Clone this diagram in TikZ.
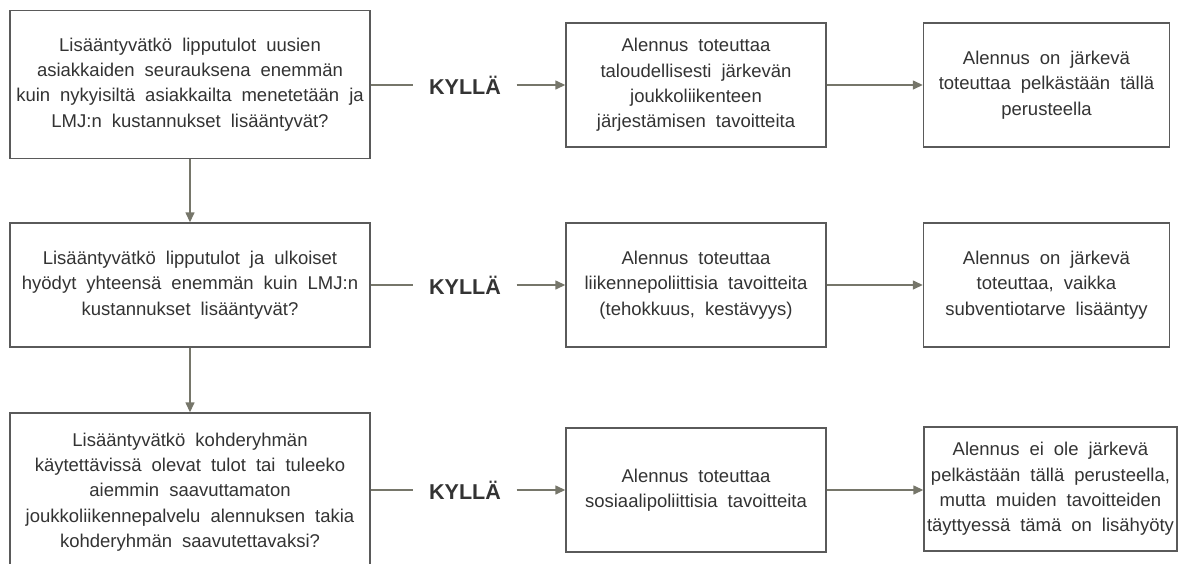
\documentclass[tikz,border=0pt]{standalone}
\usepackage{fontspec}
\setmainfont{Liberation Sans}
\usetikzlibrary{arrows.meta}
\definecolor{boxline}{HTML}{5A5A5A}
\definecolor{arrowc}{HTML}{76766A}
\definecolor{txt}{HTML}{333333}
\newcommand\myboxfont{\fontsize{18.5}{25.3}\selectfont\spaceskip=10pt plus 2pt minus 1pt\relax}
\tikzset{
  box/.style={draw=boxline, line width=1.4pt, fill=white, inner sep=0pt, align=center,
    text=txt, font=\myboxfont},
  leftbox/.style={box, minimum width=360pt},
  midbox/.style={box, minimum width=260pt, minimum height=124pt},
  rightbox/.style={box, minimum width=246pt, minimum height=124pt},
  yes/.style={inner sep=0pt, minimum width=103pt, minimum height=20pt, text=txt,
    font=\fontsize{21.5}{24}\selectfont\bfseries},
  conn/.style={draw=arrowc, line width=1.4pt},
  arr/.style={conn, -{Triangle[length=10pt,width=9pt]}},
}
\begin{document}
\begin{tikzpicture}[x=1pt,y=-1pt]
\useasboundingbox (0,0) rectangle (1179,563);
\clip (0,0) rectangle (1179,563);
% left column
\node[leftbox, minimum height=148pt] (q1) at (190,84.5)
  {Lisääntyvätkö lipputulot uusien\\asiakkaiden seurauksena enemmän\\kuin nykyisiltä asiakkailta menetetään ja\\LMJ:n kustannukset lisääntyvät?};
\node[leftbox, minimum height=124pt] (q2) at (190,285)
  {Lisääntyvätkö lipputulot ja ulkoiset\\hyödyt yhteensä enemmän kuin LMJ:n\\kustannukset lisääntyvät?};
\node[leftbox, minimum height=158pt] (q3) at (190,492)
  {Lisääntyvätkö kohderyhmän\\käytettävissä olevat tulot tai tuleeko\\aiemmin saavuttamaton\\joukkoliikennepalvelu alennuksen takia\\kohderyhmän saavutettavaksi?};
% middle column
\node[midbox] (m1) at (696,85)
  {Alennus toteuttaa\\taloudellisesti järkevän\\joukkoliikenteen\\järjestämisen tavoitteita};
\node[midbox] (m2) at (696,285)
  {Alennus toteuttaa\\liikennepoliittisia tavoitteita\\(tehokkuus, kestävyys)};
\node[midbox] (m3) at (696,490)
  {Alennus toteuttaa\\sosiaalipoliittisia tavoitteita};
% right column
\node[rightbox] (r1) at (1046.5,85)
  {Alennus on järkevä\\toteuttaa pelkästään tällä\\perusteella};
\node[rightbox] (r2) at (1046.5,285)
  {Alennus on järkevä\\toteuttaa, vaikka\\subventiotarve lisääntyy};
\node[rightbox, minimum width=253pt] (r3) at (1050.5,489)
  {Alennus ei ole järkevä\\pelkästään tällä perusteella,\\mutta muiden tavoitteiden\\täyttyessä tämä on lisähyöty};
% KYLLÄ labels
\node[yes] (k1) at (465,85) {KYLLÄ};
\node[yes] (k2) at (465,285) {KYLLÄ};
\node[yes] (k3) at (465,490) {KYLLÄ};
% connectors
\draw[conn] (q1.east |- k1.west) -- (k1.west);
\draw[arr] (k1.east) -- (m1.west);
\draw[arr] (m1.east) -- (r1.west);
\draw[conn] (q2.east) -- (k2.west);
\draw[arr] (k2.east) -- (m2.west);
\draw[arr] (m2.east) -- (r2.west);
\draw[conn] (q3.east |- k3.west) -- (k3.west);
\draw[arr] (k3.east) -- (m3.west);
\draw[arr] (m3.east) -- (r3.west |- m3.east);
\draw[arr] (q1.south) -- (q2.north);
\draw[arr] (q2.south) -- (q3.north);
\end{tikzpicture}
\end{document}
